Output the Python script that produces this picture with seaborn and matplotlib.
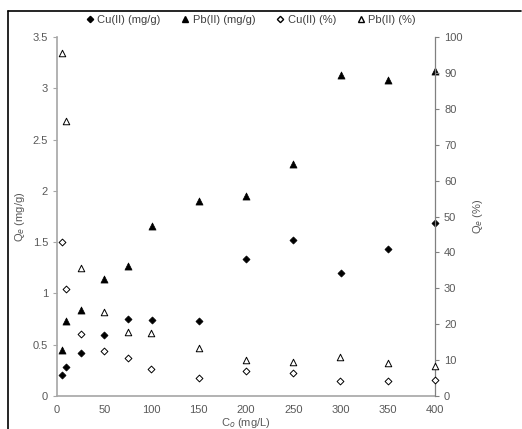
import matplotlib
matplotlib.use("Agg")
import matplotlib.pyplot as plt
import seaborn as sns
import pandas as pd
from matplotlib.lines import Line2D

# initial concentration (mg/L)
c0 = [5, 10, 25, 50, 75, 100, 150, 200, 250, 300, 350, 400]

# uptake (mg/g)
cu_mg = [0.20, 0.285, 0.42, 0.595, 0.75, 0.74, 0.73, 1.34, 1.525, 1.20, 1.435, 1.69]
pb_mg = [0.45, 0.73, 0.84, 1.14, 1.27, 1.66, 1.90, 1.95, 2.26, 3.13, 3.08, 3.17]

# removal (%)
cu_pct = [43.0, 29.7, 17.4, 12.6, 10.5, 7.6, 5.0, 7.0, 6.4, 4.2, 4.3, 4.4]
pb_pct = [95.5, 76.7, 35.6, 23.5, 17.7, 17.6, 13.4, 10.1, 9.5, 10.8, 9.1, 8.4]

df = pd.DataFrame({"C0": c0, "cu_mg": cu_mg, "pb_mg": pb_mg,
                   "cu_pct": cu_pct, "pb_pct": pb_pct})

sns.set_style("white")
plt.rcParams["font.family"] = ["Liberation Sans", "DejaVu Sans"]
plt.rcParams["font.size"] = 8

fig = plt.figure(figsize=(5.22, 4.29), dpi=100)
ax = fig.add_axes([57 / 522, 1 - 396 / 429, (435 - 57) / 522, (396 - 37) / 429])
ax2 = ax.twinx()

txt = "#595959"
grey = "#a6a6a6"

sns.scatterplot(data=df, x="C0", y="cu_mg", ax=ax, marker="D", s=13,
                color="black", edgecolor="black", linewidth=0.5, zorder=3, clip_on=False)
sns.scatterplot(data=df, x="C0", y="pb_mg", ax=ax, marker="^", s=26,
                color="black", edgecolor="black", linewidth=0.5, zorder=3, clip_on=False)
sns.scatterplot(data=df, x="C0", y="cu_pct", ax=ax2, marker="D", s=12,
                facecolor="white", edgecolor="black", linewidth=0.7, zorder=3, clip_on=False)
sns.scatterplot(data=df, x="C0", y="pb_pct", ax=ax2, marker="^", s=22,
                facecolor="white", edgecolor="black", linewidth=0.7, zorder=3, clip_on=False)

ax.set_xlim(0, 400)
ax.set_ylim(0, 3.5)
ax2.set_ylim(0, 100)
ax.set_xticks(range(0, 401, 50))
ax.set_yticks([0, 0.5, 1, 1.5, 2, 2.5, 3, 3.5])
ax.set_yticklabels(["0", "0.5", "1", "1.5", "2", "2.5", "3", "3.5"])
ax2.set_yticks(range(0, 101, 10))

ax.set_xlabel("C$_o$ (mg/L)", color=txt, labelpad=1)
ax.set_ylabel("Q$_e$ (mg/g)", color=txt, labelpad=4)
ax2.set_ylabel("Q$_e$ (%)", color=txt, labelpad=6)

for a in (ax, ax2):
    a.spines["top"].set_visible(False)
    a.tick_params(colors=txt, labelsize=8, length=3, width=0.8, direction="out")
ax.spines["right"].set_visible(False)
ax.spines["left"].set_color(grey)
ax.spines["bottom"].set_color(grey)
ax2.spines["left"].set_visible(False)
ax2.spines["bottom"].set_visible(False)
ax2.spines["right"].set_color("#808080")
ax.tick_params(axis="x", color=grey)
ax.tick_params(axis="y", color=grey)
ax2.tick_params(axis="y", color="#808080")
for s in ("left", "bottom"):
    ax.spines[s].set_linewidth(1.2)
ax2.spines["right"].set_linewidth(0.9)

handles = [
    Line2D([], [], marker="D", ls="", color="black", markersize=3.2),
    Line2D([], [], marker="^", ls="", color="black", markersize=4.5),
    Line2D([], [], marker="D", ls="", markerfacecolor="white", markeredgecolor="black", markersize=3.2),
    Line2D([], [], marker="^", ls="", markerfacecolor="white", markeredgecolor="black", markersize=4.5),
]
labels = ["Cu(II) (mg/g)", "Pb(II) (mg/g)", "Cu(II) (%)", "Pb(II) (%)"]
leg = fig.legend(handles, labels, loc="center", bbox_to_anchor=(250 / 522, 1 - 20 / 429),
                 ncol=4, frameon=False, handletextpad=0.2, columnspacing=1.7,
                 handlelength=1.0, fontsize=8)
for t in leg.get_texts():
    t.set_color("#404040")

# outer frame
fig.add_artist(Line2D([8 / 522, 8 / 522], [0, 1 - 11 / 429], color="black", lw=1.2,
                      transform=fig.transFigure))
fig.add_artist(Line2D([8 / 522, 521 / 522], [1 - 11 / 429, 1 - 11 / 429], color="black", lw=1.2,
                      transform=fig.transFigure))

fig.savefig("out.png", dpi=100)
